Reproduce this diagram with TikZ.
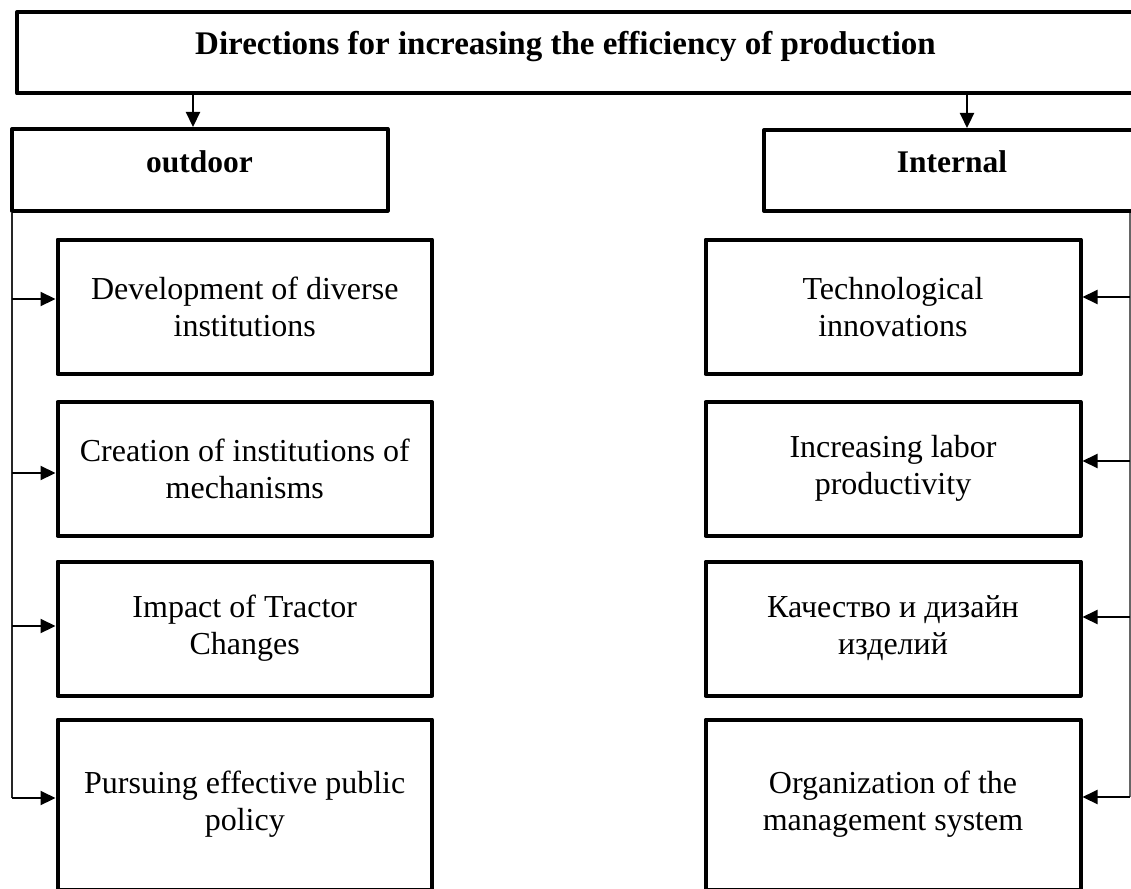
\documentclass[tikz,border=0pt]{standalone}
\usepackage{fontspec}
\setmainfont{Liberation Serif}
\usetikzlibrary{arrows.meta,calc}
\begin{document}
\begin{tikzpicture}[x=1pt,y=-1pt,
  frame/.style={draw=black, line width=4pt, line join=round, rectangle, inner sep=0pt, fill=white},
  item/.style={frame, align=center, font=\fontsize{32}{37}\selectfont},
  head/.style={anchor=base, inner sep=0pt, font=\bfseries\fontsize{31.5}{37}\selectfont},
  arr/.style={draw=black, line width=2.2pt, -{Triangle[length=15pt,width=14pt]}},
  bus/.style={draw=black!85, line width=1.3pt}]
\useasboundingbox (0,0) rectangle (1131,888);
\fill[white] (0,0) rectangle (1131,888);
\clip (0,0) rectangle (1131,888);

% header boxes
\node[frame, minimum width=1133pt, minimum height=81.5pt] (title) at (583.5,52.75) {};
\node[frame, minimum width=375.5pt, minimum height=81.5pt] (outdoor) at (199.75,169.75) {};
\node[frame, minimum width=386pt, minimum height=81pt] (internal) at (957,170.5) {};
\node[head, font=\bfseries\fontsize{33}{38}\selectfont] (titletxt) at (565.5,55) {Directions for increasing the efficiency of production};
\node[head] (outdoortxt) at (199.5,172) {outdoor};
\node[head] (internaltxt) at (952,172) {Internal};

% left column
\node[item, minimum width=374.5pt, minimum height=134.5pt] (L1) at (244.75,306.75) {Development of diverse\\institutions};
\node[item, minimum width=374.5pt, minimum height=133.5pt] (L2) at (244.75,468.75) {Creation of institutions of\\mechanisms};
\node[item, minimum width=374.5pt, minimum height=134pt] (L3) at (244.75,628.5) {Impact of Tractor\\Changes};
\node[item, minimum width=374.5pt, minimum height=170pt] (L4) at (244.75,804.5) {Pursuing effective public\\policy};

% right column
\node[item, minimum width=375pt, minimum height=134.5pt] (R1) at (893,306.75) {Technological\\innovations};
\node[item, minimum width=375pt, minimum height=133.5pt] (R2) at (893,468.75) {Increasing labor\\productivity};
\node[item, minimum width=375pt, minimum height=134pt] (R3) at (893,628.5) {Качество и дизайн\\изделий};
\node[item, minimum width=375pt, minimum height=170pt] (R4) at (893,804.5) {Organization of the\\management system};

% top arrows
\coordinate (ta) at (193,0);
\coordinate (tb) at (967,0);
\draw[arr] (ta |- title.south) -- (ta |- outdoor.north);
\draw[arr] (tb |- title.south) -- (tb |- internal.north);

% left bus
\coordinate (lb) at (12,0);
\coordinate (a1) at ([yshift=7.75pt]L1.west);
\coordinate (a2) at ([yshift=-4.25pt]L2.west);
\coordinate (a3) at ([yshift=2.5pt]L3.west);
\coordinate (a4) at ([yshift=6.5pt]L4.west);
\draw[bus] (lb |- outdoor.south) -- (lb |- a4);
\draw[arr] (lb |- a1) -- (a1);
\draw[arr] (lb |- a2) -- (a2);
\draw[arr] (lb |- a3) -- (a3);
\draw[arr] (lb |- a4) -- (a4);

% right bus
\coordinate (rb) at (1130,0);
\coordinate (b1) at ([yshift=9.75pt]R1.east);
\coordinate (b2) at ([yshift=7.75pt]R2.east);
\coordinate (b3) at ([yshift=11.5pt]R3.east);
\coordinate (b4) at ([yshift=7.5pt]R4.east);
\draw[bus, draw=black!60] (rb |- internal.south) -- (rb |- b4);
\draw[arr] (rb |- b1) -- (b1);
\draw[arr] (rb |- b2) -- (b2);
\draw[arr] (rb |- b3) -- (b3);
\draw[arr] (rb |- b4) -- (b4);
\end{tikzpicture}
\end{document}
